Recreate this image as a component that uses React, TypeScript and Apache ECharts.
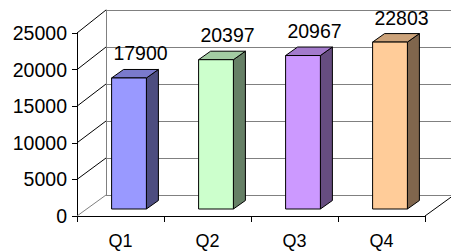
import React, { useEffect, useRef } from "react";
import * as echarts from "echarts";

// ---- data ----
const categories = ["Q1", "Q2", "Q3", "Q4"];
const values = [17900, 20397, 20967, 22803];
const yTicks = [0, 5000, 10000, 15000, 20000, 25000];
const Y_MIN = 0;
const Y_MAX = 25000;
const Y_INTERVAL = 5000;

// ---- styles ----
const frontColors = ["#9999FF", "#CCFFCC", "#CC99FF", "#FFCC99"];
const topColors = ["#7A7ACC", "#A3CCA3", "#A37ACC", "#CCA37A"];
const sideColors = ["#4D4D80", "#668066", "#664D80", "#80664D"];
const FONT = '"Liberation Sans", Arial, sans-serif';

// ---- layout ----
const W = 451;
const H = 251;
const FRONT = { left: 77, top: 33, right: 26, bottom: 35 };
const BACK = { left: 106, top: 10, right: -3, bottom: 56 };
const BACK_Y0 = H - BACK.bottom;
const BACK_H = H - BACK.top - BACK.bottom;
const BAR_RATIO = 0.4;
const BAR_DX = 8.5;
const BAR_DY = -7;
const DEPTH_DX = 12;
const DEPTH_DY = -8.5;
const LABEL_DX = 20;
const LABEL_GAP = 6;

export default function App() {
  const ref = useRef<HTMLDivElement>(null);

  useEffect(() => {
    if (!ref.current) return;
    const chart = echarts.init(ref.current, null, { renderer: "svg" });

    const frameRender = (params: any, api: any) => {
      const cs = params.coordSys;
      const v = api.value(1);
      const yF = api.coord([0, v])[1];
      const yB = BACK_Y0 - ((v - Y_MIN) / (Y_MAX - Y_MIN)) * BACK_H;
      const dx = BACK.left - FRONT.left;
      const children: any[] = [
        {
          type: "line",
          shape: { x1: cs.x, y1: yF, x2: cs.x + dx, y2: yB },
          style: { stroke: v === 0 ? "#808080" : "#000000", lineWidth: 1 },
        },
      ];
      if (v === 0) {
        children.push({
          type: "line",
          shape: {
            x1: cs.x + cs.width,
            y1: yF,
            x2: cs.x + cs.width + dx,
            y2: yB,
          },
          style: { stroke: "#000000", lineWidth: 1 },
        });
      }
      return { type: "group", children };
    };

    const barRender = (params: any, api: any) => {
      const i = api.value(0);
      const v = api.value(1);
      const [cx, yTop] = api.coord([i, v]);
      const yBase = api.coord([i, 0])[1];
      const bw = api.size([1, 0])[0] * BAR_RATIO;
      const xl = cx + BAR_DX - bw / 2;
      const xr = xl + bw;
      const yt = yTop + BAR_DY;
      const yb = yBase + BAR_DY;
      const stroke = { stroke: "#000000", lineWidth: 1, lineJoin: "round" };
      return {
        type: "group",
        children: [
          {
            type: "polygon",
            shape: {
              points: [
                [xr, yt],
                [xr + DEPTH_DX, yt + DEPTH_DY],
                [xr + DEPTH_DX, yb + DEPTH_DY],
                [xr, yb],
              ],
            },
            style: { fill: sideColors[i], ...stroke },
          },
          {
            type: "polygon",
            shape: {
              points: [
                [xl, yt],
                [xr, yt],
                [xr + DEPTH_DX, yt + DEPTH_DY],
                [xl + DEPTH_DX, yt + DEPTH_DY],
              ],
            },
            style: { fill: topColors[i], ...stroke },
          },
          {
            type: "rect",
            shape: { x: xl, y: yt, width: bw, height: yb - yt },
            style: { fill: frontColors[i], ...stroke },
          },
          {
            type: "text",
            style: {
              text: String(v),
              x: cx + LABEL_DX,
              y: yt + DEPTH_DY - LABEL_GAP,
              align: "center",
              verticalAlign: "bottom",
              fill: "#000000",
              font: `19.5px ${FONT}`,
            },
          },
        ],
      };
    };

    chart.setOption({
      animation: false,
      backgroundColor: "#ffffff",
      grid: [
        { ...BACK, containLabel: false },
        { ...FRONT, containLabel: false },
      ],
      xAxis: [
        {
          gridIndex: 0,
          type: "category",
          data: categories,
          axisLine: { show: false },
          axisTick: { show: false },
          axisLabel: { show: false },
          splitLine: { show: false },
        },
        {
          gridIndex: 1,
          type: "category",
          data: categories,
          boundaryGap: true,
          axisLine: { show: true, lineStyle: { color: "#000000", width: 1 } },
          axisTick: {
            show: true,
            interval: 0,
            length: 6,
            alignWithLabel: false,
            lineStyle: { color: "#000000" },
          },
          axisLabel: {
            show: true,
            interval: 0,
            margin: 16,
            color: "#000000",
            fontSize: 18,
            fontFamily: FONT,
          },
          splitLine: { show: false },
        },
      ],
      yAxis: [
        {
          gridIndex: 0,
          type: "value",
          min: Y_MIN,
          max: Y_MAX,
          interval: Y_INTERVAL,
          axisLine: { show: true, lineStyle: { color: "#808080", width: 1 } },
          axisTick: { show: false },
          axisLabel: { show: false },
          splitLine: { show: true, lineStyle: { color: "#808080", width: 1 } },
        },
        {
          gridIndex: 1,
          type: "value",
          min: Y_MIN,
          max: Y_MAX,
          interval: Y_INTERVAL,
          axisLine: { show: true, lineStyle: { color: "#000000", width: 1 } },
          axisTick: { show: true, length: 5, lineStyle: { color: "#000000" } },
          axisLabel: {
            show: true,
            margin: 10,
            color: "#000000",
            fontSize: 19.5,
            fontFamily: FONT,
            formatter: (val: number) => String(val),
          },
          splitLine: { show: false },
        },
      ],
      series: [
        {
          type: "custom",
          name: "frame",
          xAxisIndex: 1,
          yAxisIndex: 1,
          silent: true,
          renderItem: frameRender,
          data: yTicks.map((t) => [0, t]),
          z: 1,
        },
        {
          type: "custom",
          name: "sales",
          xAxisIndex: 1,
          yAxisIndex: 1,
          renderItem: barRender,
          data: values.map((v, i) => [i, v]),
          z: 3,
        },
      ],
    });

    return () => chart.dispose();
  }, []);

  return (
    <div
      ref={ref}
      style={{
        position: "fixed",
        left: 0,
        top: 0,
        width: W,
        height: H,
        background: "#ffffff",
      }}
    />
  );
}
